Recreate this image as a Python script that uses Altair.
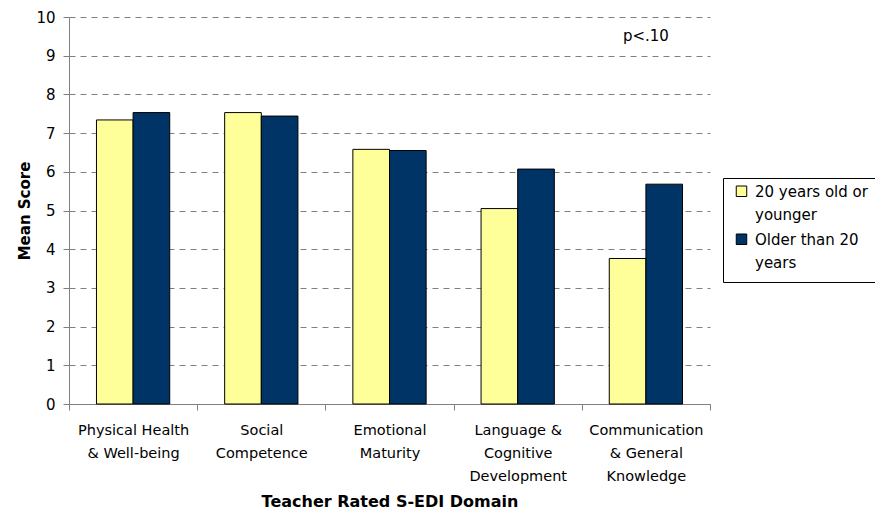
import altair as alt
import pandas as pd

categories = [
    "Physical Health|& Well-being",
    "Social|Competence",
    "Emotional|Maturity",
    "Language &|Cognitive|Development",
    "Communication|& General|Knowledge",
]
groups = ["\u00a020 years old or|younger", "Older than 20|years"]
young = [7.34, 7.53, 6.58, 5.05, 3.76]
older = [7.53, 7.44, 6.55, 6.07, 5.68]
colors = ["#FFFF99", "#003366"]
y_ticks = [0, 1, 2, 3, 4, 5, 6, 7, 8, 9, 10]
note_text = ["p<.10"]
note_y = [9.5]

rows = []
for c, a, b in zip(categories, young, older):
    rows.append({"domain": c, "group": groups[0], "score": a})
    rows.append({"domain": c, "group": groups[1], "score": b})
df = pd.DataFrame(rows)

FONT = "DejaVu Sans"

x_axis = alt.Axis(
    title="Teacher Rated S-EDI Domain",
    labelAngle=0,
    labelExpr="split(datum.label, '|')",
    labelFontSize=14.5,
    labelLineHeight=23,
    labelPadding=13,
    labelColor="black",
    labelFont=FONT,
    tickBand="extent",
    tickSize=6,
    tickColor="#808080",
    domainColor="#808080",
    grid=False,
    titleFont=FONT,
    titleFontSize=16,
    titleFontWeight="bold",
    titlePadding=11,
    titleColor="black",
)

y_axis = alt.Axis(
    title="Mean Score",
    values=y_ticks,
    labelFontSize=15,
    labelFont=FONT,
    labelColor="black",
    labelPadding=8,
    labelOverlap=False,
    tickSize=6,
    tickColor="#808080",
    domainColor="#808080",
    grid=True,
    gridColor="#808080",
    gridDash=[6, 5],
    gridWidth=1,
    titleFont=FONT,
    titleFontSize=15,
    titleFontWeight="bold",
    titlePadding=3,
    titleColor="black",
)
y_scale = alt.Scale(domain=[0, 10], nice=False)

bars = alt.Chart(df).mark_bar(stroke="black", strokeWidth=1).encode(
    x=alt.X(
        "domain:N",
        sort=categories,
        scale=alt.Scale(paddingInner=0, paddingOuter=0),
        axis=x_axis,
    ),
    xOffset=alt.XOffset(
        "group:N",
        sort=groups,
        scale=alt.Scale(paddingInner=0, paddingOuter=0.75),
    ),
    y=alt.Y("score:Q", scale=y_scale, axis=y_axis),
    color=alt.Color(
        "group:N",
        sort=groups,
        scale=alt.Scale(domain=groups, range=colors),
        legend=alt.Legend(
            title=None,
            orient="none",
            legendX=654,
            legendY=161,
            labelExpr="split(datum.label, '|')",
            labelFontSize=15,
            labelFont=FONT,
            labelLimit=300,
            labelBaseline="alphabetic",
            labelColor="black",
            symbolType="M-1,-2.0H1V0H-1Z",
            symbolSize=110,
            symbolStrokeColor="black",
            symbolStrokeWidth=1,
            strokeColor="black",
            fillColor="white",
            padding=11,
            rowPadding=9,
            labelOffset=6,
        ),
    ),
)

note = alt.Chart(pd.DataFrame({"t": note_text, "v": note_y})).mark_text(
    font=FONT, fontSize=15, color="black"
).encode(
    x=alt.datum(categories[4]),
    y=alt.Y("v:Q", scale=y_scale, axis=y_axis),
    text="t:N",
)

chart = (
    alt.layer(bars, note)
    .properties(
        width=641,
        height=387,
        padding={"left": 61, "top": 9, "right": 165, "bottom": 106},
        autosize=alt.AutoSizeParams(type="none"),
    )
    .configure(style={"guide-label": {"lineHeight": 23.5}}, view=alt.ViewConfig(stroke=None))
)

chart.save("out.html", embed_options={"renderer": "svg", "actions": False})
